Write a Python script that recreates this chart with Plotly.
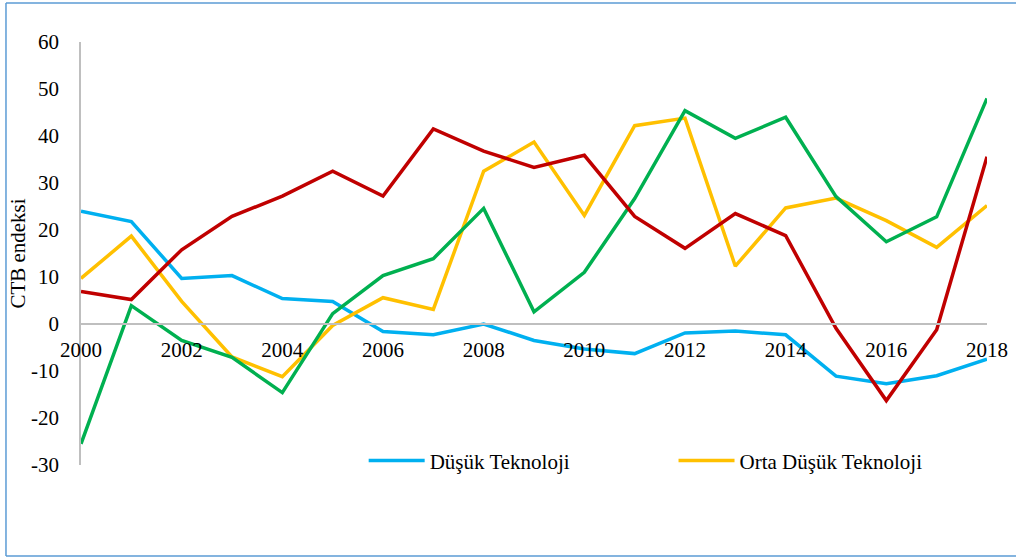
import plotly.graph_objects as go

years = list(range(2000, 2019))
tick_years = list(range(2000, 2019, 2))
y_ticks = list(range(-30, 61, 10))
y_ticktext = [str(v) for v in y_ticks]  # plain hyphen minus as in the reference

dusuk = [24.0, 21.8, 9.7, 10.3, 5.4, 4.8, -1.6, -2.3, 0.0, -3.5, -5.3, -6.3,
         -1.9, -1.5, -2.3, -11.1, -12.7, -11.0, -7.5]
orta_dusuk = [9.7, 18.7, 4.8, -7.0, -11.2, -0.3, 5.6, 3.1, 32.5, 38.7, 23.1, 42.2,
              43.8, 12.3, 24.7, 26.8, 22.0, 16.3, 25.2]
orta_yuksek = [-25.5, 3.9, -3.5, -7.1, -14.6, 2.2, 10.3, 13.9, 24.6, 2.6, 11.0, 26.7,
               45.4, 39.5, 44.0, 27.1, 17.5, 22.8, 48.0]
yuksek = [6.9, 5.2, 15.8, 22.9, 27.2, 32.5, 27.2, 41.5, 36.8, 33.3, 35.9, 22.9,
          16.1, 23.5, 18.8, -0.9, -16.3, -1.2, 35.6]

series = [
    ("Düşük Teknoloji", dusuk, "#00B0F0", True, "legend"),
    ("Orta Düşük Teknoloji", orta_dusuk, "#FFC000", True, "legend2"),
    ("Orta Yüksek Teknoloji", orta_yuksek, "#00B050", False, "legend"),
    ("Yüksek Teknoloji", yuksek, "#C00000", False, "legend"),
]

fig = go.Figure()
for name, vals, color, show, leg in series:
    fig.add_trace(go.Scatter(x=years, y=vals, mode="lines", name=name,
                             line=dict(color=color, width=3.5),
                             showlegend=show, legend=leg))

font = dict(family="Liberation Serif", size=21, color="black")

leg_common = dict(orientation="h", yanchor="middle", xanchor="left", font=font,
                  bgcolor="rgba(0,0,0,0)", borderwidth=0, itemwidth=56)

# frame around the chart (left, top, bottom edges; right edge is outside the picture)
bx0, bx1, by0, by1 = -0.0828, 1.2, -0.215, 1.092
frame_line = dict(color="#5B9BD5", width=1.5)
frame = [
    dict(type="line", xref="paper", yref="paper", x0=bx0, x1=bx0, y0=by0, y1=by1, line=frame_line, layer="below"),
    dict(type="line", xref="paper", yref="paper", x0=bx0, x1=bx1, y0=by1, y1=by1, line=frame_line, layer="below"),
    dict(type="line", xref="paper", yref="paper", x0=bx0, x1=bx1, y0=by0, y1=by0, line=frame_line, layer="below"),
]

fig.update_layout(
    width=1016, height=558,
    margin=dict(l=81, r=29, t=42, b=93, autoexpand=False),
    paper_bgcolor="white", plot_bgcolor="white",
    font=font,
    xaxis=dict(range=[2000, 2018], tickvals=tick_years, ticktext=[str(y) for y in tick_years],
               showgrid=False, zeroline=False, showline=True, linecolor="#BFBFBF", linewidth=1.5,
               anchor="free", position=1/3, ticks="outside", ticklen=7, automargin=False,
               tickcolor="rgba(0,0,0,0)", tickfont=font),
    yaxis=dict(range=[-30, 60], tickvals=y_ticks, ticktext=y_ticktext,
               showgrid=False, zeroline=False,
               showline=True, linecolor="#BFBFBF", linewidth=1.5, automargin=False,
               ticks="outside", ticklen=16, tickcolor="rgba(0,0,0,0)", tickfont=font,
               title=dict(text="CTB endeksi", font=font, standoff=0)),
    legend=dict(x=0.312, y=0.01, **leg_common),
    legend2=dict(x=0.654, y=0.01, **leg_common),
    shapes=frame,
)

fig.write_html("out.html", config={"displayModeBar": False},
               post_script="document.body.style.margin='0';document.body.style.overflow='hidden';")
